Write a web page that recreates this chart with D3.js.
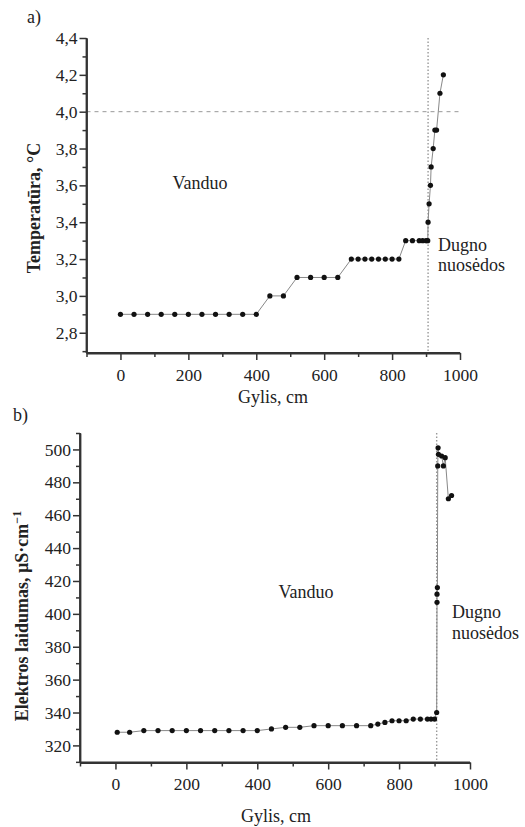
<!DOCTYPE html>
<html><head><meta charset="utf-8">
<script src="https://cdn.jsdelivr.net/npm/d3@7"></script>
<style>
body{margin:0;background:#fff;}
text{font-family:"Liberation Serif","Times New Roman",serif;fill:#222;}
</style></head>
<body><svg id="c" width="525" height="827"></svg>
<script>
// ---- data ----
const tempDepth = [0,40,80,120,160,200,240,280,320,360,400,440,480,520,560,600,640,680,700,720,740,760,780,800,820,840,860,880,890,900,905,906,909,913,915,921,926,931,941,951];
const tempValue = [2.9,2.9,2.9,2.9,2.9,2.9,2.9,2.9,2.9,2.9,2.9,3.0,3.0,3.1,3.1,3.1,3.1,3.2,3.2,3.2,3.2,3.2,3.2,3.2,3.2,3.3,3.3,3.3,3.3,3.3,3.3,3.4,3.5,3.6,3.7,3.8,3.9,3.9,4.1,4.2];
const condDepth = [5,40,80,120,160,200,240,280,320,360,400,440,480,520,560,600,640,680,720,740,760,780,800,820,840,860,880,890,900,906,907,907,908,909,910,911,920,925,930,939,948];
const condValue = [328,328,329,329,329,329,329,329,329,329,329,330,331,331,332,332,332,332,332,333,334,335,335,335,336,336,336,336,336,340,407,412,416,490,501,497,496,490,495,470,472];
const xTicks = [0,200,400,600,800,1000];
const xMinor = [-100,100,300,500,700,900];
const tempTicks = [2.8,3.0,3.2,3.4,3.6,3.8,4.0,4.2,4.4];
const tempMinor = [2.7,2.9,3.1,3.3,3.5,3.7,3.9,4.1,4.3];
const condTicks = [320,340,360,380,400,420,440,460,480,500];
const condMinor = [310,330,350,370,390,410,430,450,470,490,510];
const boundaryDepth = 906;
const threshold = 4.0;

const svg = d3.select("#c");
const FS = 17.5;

function panel(o){
  const g = svg.append("g");
  const x = d3.scaleLinear().domain([-100,1000]).range([o.x0,o.x1]);
  const y = d3.scaleLinear().domain(o.yd).range([o.y0,o.y1]);
  // reference lines
  if(o.hline!==undefined){
    g.append("line").attr("x1",x(-100)).attr("x2",x(1000)).attr("y1",y(o.hline)).attr("y2",y(o.hline))
      .attr("stroke","#999").attr("stroke-width",1).attr("stroke-dasharray","4,4");
  }
  g.append("line").attr("x1",x(boundaryDepth)).attr("x2",x(boundaryDepth)).attr("y1",y(o.yd[1])).attr("y2",y(o.yd[0]))
    .attr("stroke","#999").attr("stroke-width",1.4).attr("stroke-dasharray","1.5,2");
  // axes
  const ax = g.append("g").attr("transform",`translate(0,${o.y0})`)
    .call(d3.axisBottom(x).tickValues(xTicks).tickSize(7).tickSizeOuter(0).tickPadding(4).tickFormat(d3.format("d")));
  const axm = g.append("g").attr("transform",`translate(0,${o.y0})`)
    .call(d3.axisBottom(x).tickValues(xMinor).tickSize(4).tickSizeOuter(0).tickFormat(""));
  const ay = g.append("g").attr("transform",`translate(${o.x0},0)`)
    .call(d3.axisLeft(y).tickValues(o.ticks).tickSize(7).tickSizeOuter(0).tickPadding(2).tickFormat(o.fmt));
  const aym = g.append("g").attr("transform",`translate(${o.x0},0)`)
    .call(d3.axisLeft(y).tickValues(o.minor).tickSize(4).tickSizeOuter(0).tickFormat(""));
  [ax,axm,ay,aym].forEach(a=>{
    a.select(".domain").attr("stroke","#333").attr("stroke-width",1.8);
    a.selectAll(".tick line").attr("stroke","#333").attr("stroke-width",1.5);
    a.selectAll(".tick text").attr("font-size",FS).attr("font-family","Liberation Serif").attr("fill","#222");
  });
  ay.select(".domain").attr("d",`M0,${o.y0}V${o.y1}`);
  ax.select(".domain").attr("d",`M${o.x0},0H${o.x1}`);
  ax.selectAll(".tick text").attr("dy","0.95em");
  // data
  const pts = o.xs.map((d,i)=>[d,o.ys[i]]);
  g.append("path").datum(pts).attr("fill","none").attr("stroke","#888").attr("stroke-width",1)
    .attr("d",d3.line().x(d=>x(d[0])).y(d=>y(d[1])));
  g.selectAll("circle").data(pts).join("circle").attr("cx",d=>x(d[0])).attr("cy",d=>y(d[1])).attr("r",2.6).attr("fill","#111");
  return {x,y};
}

const fmtC = d=>d3.format(".1f")(d).replace(".",",");
panel({x0:86.5,x1:460,y0:353,y1:38,yd:[2.69,4.4],ticks:tempTicks,minor:tempMinor,fmt:fmtC,hline:threshold,xs:tempDepth,ys:tempValue});
panel({x0:80,x1:470,y0:762.5,y1:433,yd:[309.6,510],ticks:condTicks,minor:condMinor,fmt:d3.format("d"),xs:condDepth,ys:condValue});

function txt(x,y,s,opts={}){
  const t = svg.append("text").attr("x",x).attr("y",y).attr("font-size",opts.fs||18).text(s);
  if(opts.anchor) t.attr("text-anchor",opts.anchor);
  if(opts.bold) t.attr("font-weight","bold");
  if(opts.rot) t.attr("transform",`rotate(-90,${x},${y})`);
  return t;
}
txt(27,23,"a)");
txt(13,421,"b)");
txt(40,208,"Temperatūra, °C",{anchor:"middle",bold:true,rot:true});
const yl = txt(28,616,"Elektros laidumas, µS·cm",{anchor:"middle",bold:true,rot:true});
yl.append("tspan").attr("dy",-7).attr("font-size",12).text("−1");
txt(273,403,"Gylis, cm",{anchor:"middle"});
txt(276,822,"Gylis, cm",{anchor:"middle"});
txt(200,189,"Vanduo",{anchor:"middle"});
txt(306,598,"Vanduo",{anchor:"middle"});
txt(438,251,"Dugno");
txt(438,271,"nuosėdos");
txt(452,618,"Dugno");
txt(452,639,"nuosėdos");
</script></body></html>
